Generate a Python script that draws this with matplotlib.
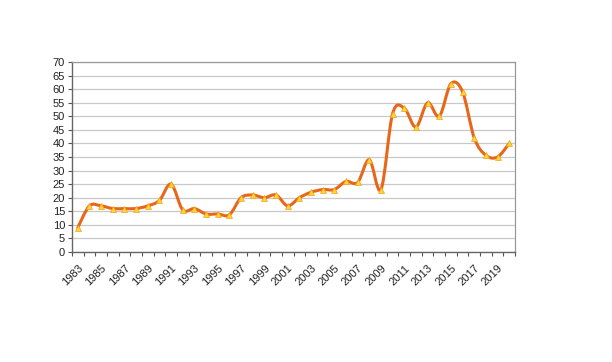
import numpy as np
import matplotlib.pyplot as plt
from matplotlib.path import Path
from matplotlib.patches import PathPatch

plt.rcParams['font.family'] = ['Liberation Sans', 'DejaVu Sans']

# --- data ---
years = list(range(1983, 2021))
values = [9, 17, 17, 16, 16, 16, 17, 19, 25, 15.5, 16, 14, 14, 13.7, 20, 21,
          20, 21, 17, 20, 22, 23, 23, 26, 25.6, 34, 23, 51, 53, 46, 55, 50,
          62, 59, 42, 35.6, 35, 40]
yticks = list(range(0, 75, 5))

line_color = '#E8661A'
marker_color = '#FFD633'


def smooth_path(x, y, t=1 / 6):
    # Bezier segments like a spreadsheet "smoothed line"
    verts = [(x[0], y[0])]
    codes = [Path.MOVETO]
    n = len(x)
    for i in range(n - 1):
        x0, y0 = (x[i - 1], y[i - 1]) if i > 0 else (x[i], y[i])
        x3, y3 = (x[i + 2], y[i + 2]) if i + 2 < n else (x[i + 1], y[i + 1])
        c1 = (x[i] + (x[i + 1] - x0) * t, y[i] + (y[i + 1] - y0) * t)
        c2 = (x[i + 1] - (x3 - x[i]) * t, y[i + 1] - (y3 - y[i]) * t)
        verts += [c1, c2, (x[i + 1], y[i + 1])]
        codes += [Path.CURVE4] * 3
    return Path(verts, codes)


fig = plt.figure(figsize=(6.12, 3.62), dpi=100)
ax = fig.add_axes([0.1176, 0.3039, 0.724, 0.5249])

xs = np.arange(len(years))
ax.add_patch(PathPatch(smooth_path(xs, values), fill=False, edgecolor=line_color,
                       lw=2.2, zorder=3, capstyle='round', joinstyle='round'))
ax.plot(xs, values, linestyle='none', marker='^', ms=3.8, mfc=marker_color,
        mec='#F0A020', mew=0.5, zorder=4)

ax.set_xlim(-0.5, len(years) - 0.5)
ax.set_ylim(0, 70)
ax.set_yticks(yticks)
ax.set_yticklabels([str(v) for v in yticks], fontsize=8, color='#222222')
ax.yaxis.grid(True, color='#C8C8C8', lw=0.9)
ax.set_axisbelow(True)

ax.set_xticks(xs[::2])
ax.set_xticklabels([str(y) for y in years[::2]], rotation=45, ha='right',
                   rotation_mode='anchor', fontsize=8, color='#222222')
ax.set_xticks(np.arange(-0.5, len(years), 1), minor=True)
ax.tick_params(axis='x', which='major', length=0, pad=8)
ax.tick_params(axis='x', which='minor', length=3, color='#555555', width=0.8)
ax.tick_params(axis='y', length=3, color='#555555', width=0.8, pad=2)

for side in ['top', 'right']:
    ax.spines[side].set_color('#999999')
    ax.spines[side].set_linewidth(0.9)
for side in ['left', 'bottom']:
    ax.spines[side].set_color('#666666')
    ax.spines[side].set_linewidth(1.0)

fig.savefig('out.png', dpi=100)
